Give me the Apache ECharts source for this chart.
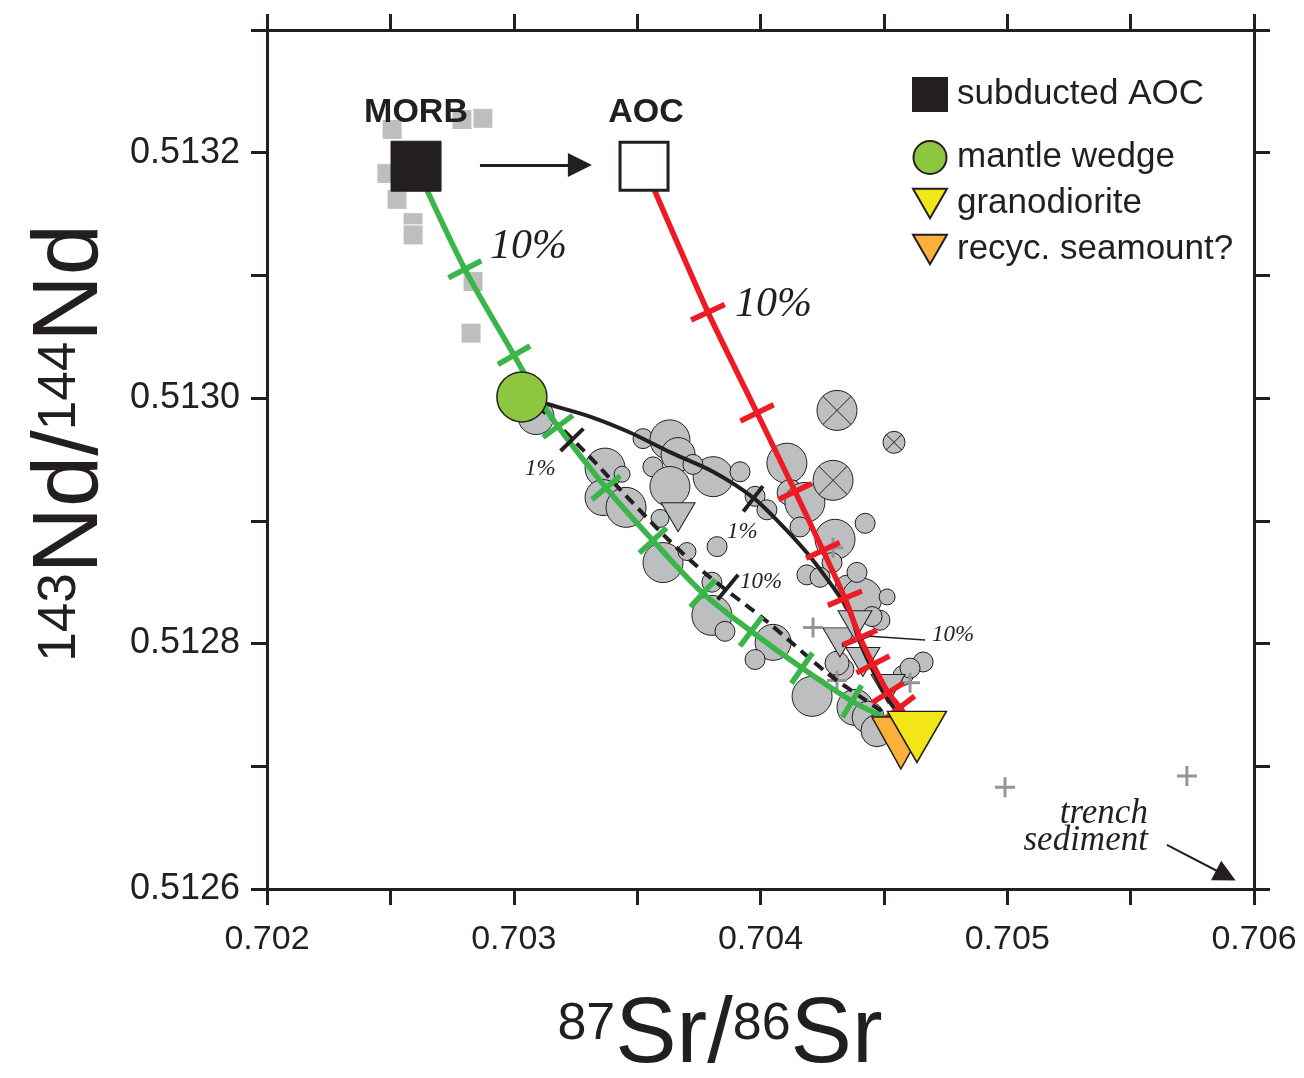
<!DOCTYPE html>
<html><head><meta charset="utf-8">
<script src="https://cdn.jsdelivr.net/npm/echarts@6/dist/echarts.min.js"></script>
<style>html,body{margin:0;padding:0;background:#fff}#c{width:1304px;height:1078px}</style>
</head><body><div id="c"></div>
<script>
// ---------- data (87Sr/86Sr, 143Nd/144Nd) ----------
const morbField = [[0.702507,0.513219],[0.702790,0.513227],[0.702875,0.513228],[0.702486,0.513183],[0.702527,0.513162],[0.702592,0.513143],[0.702592,0.513133],[0.702835,0.513095],[0.702827,0.513053]];
// arc lavas: [Sr, Nd, relative bubble weight]
const arcSamples = [
[0.703090,0.512985,9],[0.703524,0.512967,5],[0.703633,0.512966,10],[0.703666,0.512954,8.5],[0.703564,0.512944,5],
[0.703633,0.512928,10],[0.703370,0.512943,10],[0.703439,0.512938,4],[0.703362,0.512919,9],[0.703455,0.512911,10],
[0.703593,0.512902,4.5],[0.703605,0.512866,10],[0.703702,0.512875,4.5],[0.703808,0.512936,10],[0.703917,0.512940,5],
[0.703726,0.512946,5],[0.703978,0.512920,5],[0.704026,0.512909,5],[0.703824,0.512879,5],[0.704107,0.512947,10],
[0.704120,0.512923,6.5],[0.704180,0.512915,10],[0.704160,0.512895,5],[0.704302,0.512885,10],[0.704424,0.512898,5],
[0.704290,0.512866,5],[0.704188,0.512856,5],[0.704241,0.512854,5],[0.704351,0.512846,6],[0.704411,0.512837,10],
[0.704513,0.512838,4],[0.704484,0.512819,5],[0.703803,0.512850,5],[0.703803,0.512823,10],[0.703856,0.512810,5],
[0.704051,0.512801,9],[0.703978,0.512787,5],[0.704209,0.512757,10],[0.704334,0.512779,5.5],[0.704383,0.512748,9],
[0.704436,0.512740,8],[0.704472,0.512729,8],[0.704659,0.512785,5],[0.704578,0.512774,5],[0.704391,0.512858,5],
[0.704452,0.512822,5],[0.704310,0.512784,6],[0.704606,0.512780,5]
];
const crossedSamples = [[0.704310,0.512990,10],[0.704541,0.512964,5.5],[0.704294,0.512933,10]];
const triangleSamples = [[0.703666,0.512903],[0.704322,0.512801],[0.704383,0.512815],[0.704415,0.512785],[0.704517,0.512763]];
const crossSamples = [[0.704213,0.512813],[0.704310,0.512770],[0.704606,0.512768],[0.704294,0.512878],[0.704991,0.512683],[0.705728,0.512692]];

const morb = [0.702604,0.513189];
const aoc = [0.703528,0.513189];
const mantleWedge = [0.703033,0.513001];
const granodiorite = [0.704634,0.512724];
const seamount = [0.704569,0.512719];

const greenCurve = [[0.702604,0.513189],[0.702802,0.513105],[0.703001,0.513035],[0.703090,0.513004],[0.703179,0.512977],[0.703374,0.512927],[0.703564,0.512884],[0.703767,0.512841],[0.703962,0.512810],[0.704168,0.512780],[0.704371,0.512753],[0.704501,0.512740]];
const greenTicks = [[0.702802,0.513105],[0.703001,0.513035],[0.703179,0.512977],[0.703374,0.512927],[0.703564,0.512884],[0.703767,0.512841],[0.703962,0.512810],[0.704168,0.512780],[0.704371,0.512753]];
const redCurve = [[0.703528,0.513189],[0.703787,0.513070],[0.703986,0.512988],[0.704140,0.512924],[0.704253,0.512876],[0.704342,0.512837],[0.704403,0.512805],[0.704456,0.512783],[0.704517,0.512760],[0.704565,0.512748],[0.704582,0.512743]];
const redTicks = [[0.703787,0.513070],[0.703986,0.512988],[0.704140,0.512924],[0.704253,0.512876],[0.704342,0.512837],[0.704403,0.512805],[0.704456,0.512783],[0.704517,0.512760],[0.704565,0.512748]];
const blackCurve = [[0.703033,0.513001],[0.703139,0.512995],[0.703309,0.512985],[0.703471,0.512972],[0.703633,0.512956],[0.703808,0.512940],[0.703970,0.512919],[0.704079,0.512898],[0.704188,0.512874],[0.704294,0.512846],[0.704363,0.512825],[0.704395,0.512805],[0.704448,0.512781],[0.704509,0.512757],[0.704573,0.512739]];
const blackTicks = [[0.703970,0.512918],[0.704391,0.512803]];
const dashedCurve = [[0.703033,0.513001],[0.703127,0.512988],[0.703309,0.512952],[0.703443,0.512923],[0.703625,0.512885],[0.703783,0.512856],[0.704026,0.512818],[0.704270,0.512776],[0.704403,0.512757],[0.704505,0.512743]];
const dashedTicks = [[0.703236,0.512966],[0.703868,0.512846]];

const bigPctLabels = [[0.702904,0.513123,'10%'],[0.703897,0.513076,'10%']];
const smallPctLabels = [[0.703046,0.512942,'1%'],[0.703864,0.512891,'1%'],[0.703917,0.512850,'10%'],[0.704695,0.512807,'10%']];
const memberLabels = [[0.702604,0.513233,'MORB'],[0.703536,0.513233,'AOC']];
const sedimentLabel = [[0.705570,0.512650,'trench\nsediment']];
const arrows = [[[0.702863,0.513190],[0.703268,0.513190]]];
const sedimentArrow = [[[0.705647,0.512636],[0.705886,0.512611]]];
const leaderLines = [[[0.704444,0.512806],[0.704667,0.512803]]];

const xTickLabelsEvery = 0.001, yTickLabelsEvery = 0.0002;

// ---------- chart ----------
const INK = '#231f20', GREY = '#bcbec0', CROSS = '#939598';
const chart = echarts.init(document.getElementById('c'));
const triDown = 'path://M0,0L20,0L10,17.3Z';

function tickSeries(ticks, curve, color, len, width){
  return {type:'custom', coordinateSystem:'cartesian2d', silent:true, data:ticks, z:4,
    renderItem:function(params, api){
      const p = api.coord([api.value(0), api.value(1)]);
      const pts = curve.map(c=>api.coord(c));
      let best=0, bd=Infinity;
      pts.forEach((q,i)=>{const d=(q[0]-p[0])**2+(q[1]-p[1])**2; if(d<bd){bd=d;best=i;}});
      const a = pts[Math.max(best-1,0)], b = pts[Math.min(best+1,pts.length-1)];
      let tx=b[0]-a[0], ty=b[1]-a[1]; const n=Math.hypot(tx,ty)||1; tx/=n; ty/=n;
      const nx=-ty, ny=tx, h=len/2;
      return {type:'line', shape:{x1:p[0]-nx*h,y1:p[1]-ny*h,x2:p[0]+nx*h,y2:p[1]+ny*h}, style:{stroke:color,lineWidth:width}};
    }};
}
function labelSeries(arr, labelOpt){
  return {type:'scatter', silent:true, z:6, symbol:'circle', symbolSize:1, itemStyle:{color:'rgba(0,0,0,0)', opacity:1},
    data: arr.map(d=>({value:[d[0],d[1]], name:d[2]})),
    label: Object.assign({show:true, position:'inside', formatter:'{b}', color:INK, opacity:1}, labelOpt)};
}
function axisCommon(isX, pos, showLabel){
  return {type:'value', position:pos,
    min: isX?0.702:0.5126, max: isX?0.706:0.5133, interval: isX?0.0005:0.0001,
    axisLine:{show:true, onZero:false, lineStyle:{color:INK, width:3}},
    axisTick:{show:true, length:16, lineStyle:{color:INK, width:3}},
    splitLine:{show:false},
    axisLabel:{show:showLabel, color:INK, fontSize: isX?34:36, fontFamily:'Liberation Sans',
      margin: isX?34:27,
      formatter: function(v){
        const step = isX?xTickLabelsEvery:yTickLabelsEvery;
        const k = Math.round(v/0.0001), s = Math.round(step/0.0001);
        return k % s === 0 ? v.toFixed(isX?3:4) : '';
      }}
  };
}
const legendText = {fontSize:35, lineHeight:35, color:INK, fontFamily:'Liberation Sans', padding:[0,0,0,5]};

const option = {
  animation:false,
  backgroundColor:'#fff',
  grid:{left:267, right:50, top:30, bottom:189},
  xAxis:[axisCommon(true,'bottom',true), axisCommon(true,'top',false)],
  yAxis:[axisCommon(false,'left',true), axisCommon(false,'right',false)],
  legend:[
    {left:912, top:77, padding:0, itemWidth:34, itemHeight:33, selectedMode:false, data:['subducted AOC'], textStyle:legendText},
    {left:912, top:140, padding:0, orient:'vertical', itemGap:11, itemWidth:34, itemHeight:33, selectedMode:false,
     data:[{name:'mantle wedge', icon:'circle'},{name:'granodiorite', icon:triDown},{name:'recyc. seamount?', icon:triDown}],
     textStyle:legendText}
  ],
  series:[
    {type:'scatter', name:'MORB field', silent:true, z:2, symbol:'rect', symbolSize:20, data:morbField,
     itemStyle:{color:GREY, borderColor:'#fff', borderWidth:1, opacity:1}},
    {type:'scatter', name:'arc', silent:true, z:2, symbol:'circle', data:arcSamples,
     symbolSize:v=>v[2]*4, itemStyle:{color:GREY, borderColor:INK, borderWidth:1, opacity:1}},
    {type:'scatter', name:'arc x', silent:true, z:2, symbol:'circle', data:crossedSamples,
     symbolSize:v=>v[2]*4, itemStyle:{color:GREY, borderColor:INK, borderWidth:1, opacity:1}},
    {type:'scatter', name:'arc xx', silent:true, z:2, symbol:'path://M0,0L10,10M10,0L0,10', data:crossedSamples,
     symbolSize:v=>v[2]*4*0.707, itemStyle:{color:'rgba(0,0,0,0)', borderColor:INK, borderWidth:1, opacity:1}},
    {type:'scatter', name:'arc tri', silent:true, z:2, symbol:triDown, symbolSize:[34,29], data:triangleSamples,
     itemStyle:{color:GREY, borderColor:INK, borderWidth:1, opacity:1}},
    {type:'scatter', name:'plus', silent:true, z:2, symbol:'path://M5,0L5,10M0,5L10,5', symbolSize:20, data:crossSamples,
     itemStyle:{color:'rgba(0,0,0,0)', borderColor:CROSS, borderWidth:3, opacity:1}},

    {type:'line', name:'dashed', silent:true, z:3, data:dashedCurve, smooth:0.3, symbol:'none',
     lineStyle:{color:INK, width:4, type:[11,7]}},
    {type:'line', name:'black', silent:true, z:3, data:blackCurve, smooth:0.3, symbol:'none',
     lineStyle:{color:INK, width:4}},
    {type:'line', name:'red', silent:true, z:3, data:redCurve, smooth:0.2, symbol:'none',
     lineStyle:{color:'#ed1c24', width:5.5}},
    {type:'line', name:'green', silent:true, z:3, data:greenCurve, smooth:0.3, symbol:'none',
     lineStyle:{color:'#39b54a', width:5.5}},
    tickSeries(dashedTicks, dashedCurve, INK, 32, 4),
    tickSeries(blackTicks, blackCurve, INK, 32, 4),
    tickSeries(redTicks, redCurve, '#ed1c24', 37, 5.5),
    tickSeries(greenTicks, greenCurve, '#39b54a', 37, 5.5),

    {type:'lines', coordinateSystem:'cartesian2d', silent:true, z:5, data:arrows.map(c=>({coords:c})),
     symbol:['none','triangle'], symbolSize:[30,24], lineStyle:{color:INK, width:3, opacity:1}},
    {type:'lines', coordinateSystem:'cartesian2d', silent:true, z:5, data:sedimentArrow.map(c=>({coords:c})),
     symbol:['none','triangle'], symbolSize:[24,22], lineStyle:{color:INK, width:2, opacity:1}},
    {type:'lines', coordinateSystem:'cartesian2d', silent:true, z:5, data:leaderLines.map(c=>({coords:c})),
     symbol:['none','none'], lineStyle:{color:INK, width:1.5, opacity:1}},

    {type:'scatter', name:'recyc. seamount?', silent:true, z:5, symbol:triDown, symbolSize:[58,52], data:[seamount],
     itemStyle:{color:'#fbb03b', borderColor:INK, borderWidth:1.5, opacity:1}},
    {type:'scatter', name:'granodiorite', silent:true, z:5, symbol:triDown, symbolSize:[59,51], data:[granodiorite],
     itemStyle:{color:'#f2e619', borderColor:INK, borderWidth:1.5, opacity:1}},
    {type:'scatter', name:'mantle wedge', silent:true, z:5, symbol:'circle', symbolSize:50, data:[mantleWedge],
     itemStyle:{color:'#8dc63f', borderColor:INK, borderWidth:1.5, opacity:1}},
    {type:'scatter', name:'subducted AOC', silent:true, z:5, symbol:'rect', symbolSize:50, data:[morb],
     itemStyle:{color:INK, borderColor:INK, borderWidth:1, opacity:1}},
    {type:'scatter', name:'AOC', silent:true, z:5, symbol:'rect', symbolSize:48, data:[aoc],
     itemStyle:{color:'#fff', borderColor:INK, borderWidth:3, opacity:1}},

    labelSeries(bigPctLabels, {align:'left', verticalAlign:'middle', fontSize:42, fontStyle:'italic', fontFamily:'Liberation Serif'}),
    labelSeries(smallPctLabels, {align:'left', verticalAlign:'middle', fontSize:23, fontStyle:'italic', fontFamily:'Liberation Serif'}),
    labelSeries(memberLabels, {align:'center', verticalAlign:'middle', fontSize:34, fontWeight:'bold', fontFamily:'Liberation Sans'}),
    labelSeries(sedimentLabel, {align:'right', verticalAlign:'middle', fontSize:35, lineHeight:27, fontStyle:'italic', fontFamily:'Liberation Serif'})
  ],
  graphic:[
    {type:'text', x:720, y:1037, silent:true, style:{text:'{s|87}{b|Sr/}{s|86}{b|Sr}', align:'center', verticalAlign:'middle',
      rich:{b:{fontSize:92, lineHeight:92, fontFamily:'Liberation Sans', fill:INK},
            s:{fontSize:52, lineHeight:52, fontFamily:'Liberation Sans', fill:INK, verticalAlign:'top', padding:[8,0,0,0]}}}},
    {type:'text', x:72, y:443, rotation:Math.PI/2, silent:true, style:{text:'{s|143}{b|Nd/}{s|144}{b|Nd}', align:'center', verticalAlign:'middle',
      rich:{b:{fontSize:92, lineHeight:92, fontFamily:'Liberation Sans', fill:INK},
            s:{fontSize:53, lineHeight:53, fontFamily:'Liberation Sans', fill:INK, verticalAlign:'top', padding:[8,0,0,0]}}}}
  ]
};
chart.setOption(option);
</script></body></html>
